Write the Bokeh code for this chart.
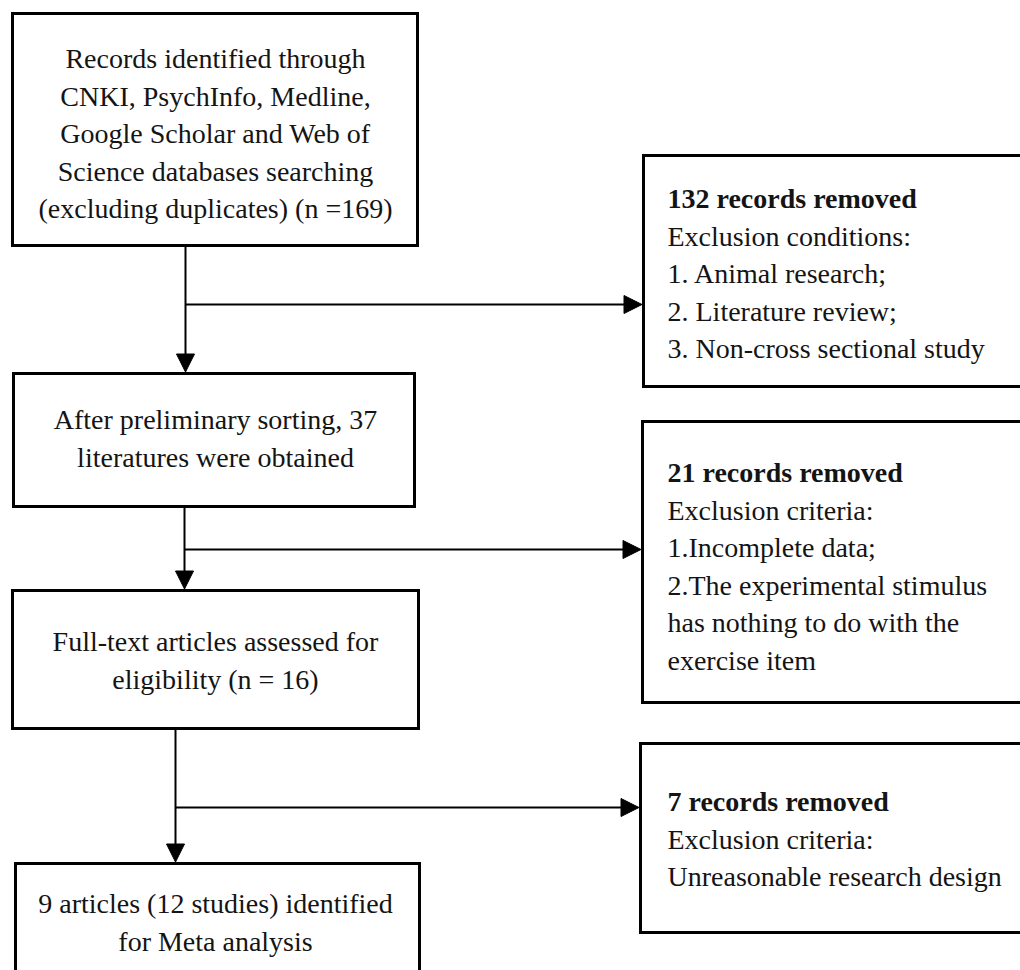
from bokeh.plotting import figure
from bokeh.models import Range1d, ColumnDataSource, Arrow, NormalHead
from bokeh.core.properties import value
from bokeh.embed import file_html
from bokeh.resources import INLINE

# ---------------- content ----------------
main_texts = [
    ["Records identified through", "CNKI, PsychInfo, Medline,", "Google Scholar and Web of",
     "Science databases searching", "(excluding duplicates) (n =169)"],
    ["After preliminary sorting, 37", "literatures were obtained"],
    ["Full-text articles assessed for", "eligibility (n = 16)"],
    ["9 articles (12 studies) identified", "for Meta analysis"],
]
removed_titles = ["132 records removed", "21 records removed", "7 records removed"]
removed_details = [
    ["Exclusion conditions:", "1. Animal research;", "2. Literature review;", "3. Non-cross sectional study"],
    ["Exclusion criteria:", "1.Incomplete data;", "2.The experimental stimulus",
     "has nothing to do with the", "exercise item"],
    ["Exclusion criteria:", "Unreasonable research design"],
]

# ---------------- layout (page pixel coordinates) ----------------
main_left = [12, 13, 12, 15]
main_right = [417, 414, 418, 419]
main_top = [13, 373, 590, 863]
main_bottom = [245, 506, 728, 1000]
main_first_baseline = [58, 419, 641, 903]
main_text_x = 215

side_left = [643, 642, 640]
side_right = [1030, 1030, 1030]
side_top = [155, 421, 743]
side_bottom = [386, 702, 932]
side_first_baseline = [198, 472, 801]
side_text_x = 667

trunk_x = [185, 184, 175]
branch_y = [304, 549, 807]
line_gap = 37.5

FONT = value("Liberation Serif")
FS = "28px"
TXT_COLOR = "#141414"

W, H = 1020, 970
p = figure(width=W, height=H, x_range=Range1d(0, W), y_range=Range1d(H, 0),
           output_backend="svg", toolbar_location=None, min_border=0)
p.axis.visible = False
p.grid.visible = False
p.outline_line_color = None
p.background_fill_color = "white"
p.border_fill_color = "white"

# boxes
p.quad(left=main_left + side_left, right=main_right + side_right,
       top=main_top + side_top, bottom=main_bottom + side_bottom,
       fill_color="white", line_color="black", line_width=3, line_join="miter")

# main box texts
mx, my, mt = [], [], []
for i, lines in enumerate(main_texts):
    for j, t in enumerate(lines):
        mx.append(main_text_x)
        my.append(main_first_baseline[i] + j * line_gap)
        mt.append(t)
p.text(x="x", y="y", text="t", source=ColumnDataSource(dict(x=mx, y=my, t=mt)),
       text_font=FONT, text_font_size=FS, text_align="center",
       text_baseline="alphabetic", text_color=TXT_COLOR)

# side box texts
tx, ty, tt = [], [], []
dx, dy, dt = [], [], []
for i, title in enumerate(removed_titles):
    tx.append(side_text_x)
    ty.append(side_first_baseline[i])
    tt.append(title)
    for j, t in enumerate(removed_details[i]):
        dx.append(side_text_x)
        dy.append(side_first_baseline[i] + (j + 1) * line_gap)
        dt.append(t)
p.text(x="x", y="y", text="t", source=ColumnDataSource(dict(x=tx, y=ty, t=tt)),
       text_font=FONT, text_font_size=FS, text_font_style="bold", text_align="left",
       text_baseline="alphabetic", text_color=TXT_COLOR)
p.text(x="x", y="y", text="t", source=ColumnDataSource(dict(x=dx, y=dy, t=dt)),
       text_font=FONT, text_font_size=FS, text_align="left",
       text_baseline="alphabetic", text_color=TXT_COLOR)

# arrows
for i in range(3):
    p.add_layout(Arrow(end=NormalHead(size=18, fill_color="black", line_color="black", line_width=1),
                       x_start=trunk_x[i], y_start=main_bottom[i],
                       x_end=trunk_x[i], y_end=main_top[i + 1] - 1.5,
                       line_color="black", line_width=2))
    p.add_layout(Arrow(end=NormalHead(size=18, fill_color="black", line_color="black", line_width=1),
                       x_start=trunk_x[i], y_start=branch_y[i],
                       x_end=side_left[i] - 1.5, y_end=branch_y[i],
                       line_color="black", line_width=2))

open("out.html", "w").write(file_html(p, INLINE))
